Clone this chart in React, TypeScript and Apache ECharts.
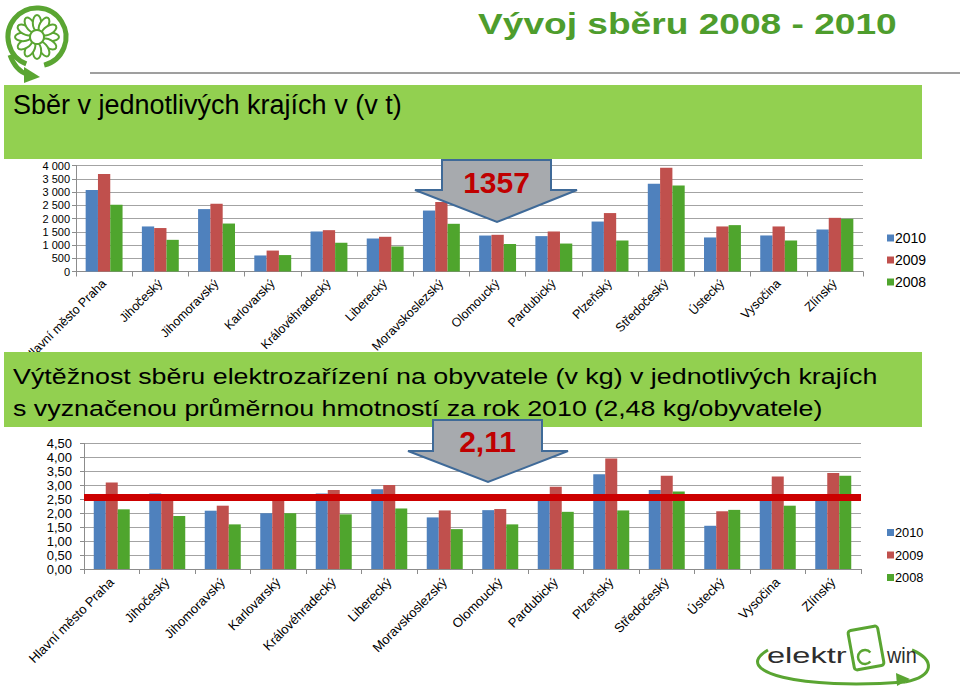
import React, { useEffect, useRef } from 'react';
import * as echarts from 'echarts';

const regions = [
  'Hlavní město Praha', 'Jihočeský', 'Jihomoravský', 'Karlovarský', 'Královéhradecký',
  'Liberecký', 'Moravskoslezský', 'Olomoucký', 'Pardubický', 'Plzeňský',
  'Středočeský', 'Ústecký', 'Vysočina', 'Zlínský',
];
const years = ['2010', '2009', '2008'];

// Sběr v tunách
const tons2010 = [3080, 1700, 2355, 605, 1510, 1245, 2300, 1357, 1335, 1885, 3310, 1285, 1360, 1585];
const tons2009 = [3675, 1640, 2555, 790, 1560, 1310, 2620, 1385, 1510, 2205, 3915, 1700, 1700, 2025];
const tons2008 = [2515, 1195, 1810, 620, 1085, 945, 1800, 1035, 1055, 1170, 3245, 1750, 1170, 1990];

// Výtěžnost kg / obyvatele
const kg2010 = [2.55, 2.71, 2.09, 2.0, 2.71, 2.86, 1.85, 2.11, 2.55, 3.4, 2.83, 1.55, 2.55, 2.55];
const kg2009 = [3.1, 2.58, 2.27, 2.58, 2.83, 3.01, 2.1, 2.15, 2.95, 3.96, 3.34, 2.07, 3.32, 3.44];
const kg2008 = [2.14, 1.9, 1.6, 2.0, 1.96, 2.17, 1.43, 1.6, 2.05, 2.1, 2.78, 2.12, 2.27, 3.34];

const avgLineValue = 2.58;
const tonAxis = { min: 0, max: 4000, interval: 500 };
const kgAxis = { min: 0, max: 4.5, interval: 0.5 };
const callout1Text = '1357';
const callout2Text = '2,11';

const titleText = 'Vývoj sběru 2008 - 2010';
const banner1Text = 'Sběr v jednotlivých krajích v (v t)';
const banner2Line1 = 'Výtěžnost sběru elektrozařízení na obyvatele (v kg) v jednotlivých krajích';
const banner2Line2 = 's vyznačenou průměrnou hmotností za rok 2010 (2,48 kg/obyvatele)';

const C_BLUE = '#4f81bd';
const C_RED = '#c0504d';
const C_GREEN = '#4fa52d';
const BANNER = '#92d050';
const LOGO_GREEN = '#5aa532';
const FONT = '"Liberation Sans", Arial, sans-serif';

function fmtTons(v: number) {
  if (v >= 1000) return `${Math.floor(v / 1000)} ${String(v % 1000).padStart(3, '0')}`;
  return String(v);
}
function fmtKg(v: number) {
  return v.toFixed(2).replace('.', ',');
}

function flowerLogo(): any[] {
  const els: any[] = [];
  const cx = 37, cy = 37;
  els.push({
    type: 'arc', z: 50,
    shape: { cx, cy, r: 29, startAngle: 1.95, endAngle: 1.95 + Math.PI * 1.8, clockwise: true },
    style: { stroke: LOGO_GREEN, lineWidth: 5, fill: 'none' },
  });
  els.push({
    type: 'bezierCurve', z: 50,
    shape: { x1: 10, y1: 55, x2: 27, y2: 74, cpx1: 14, cpy1: 66, cpx2: 20, cpy2: 72 },
    style: { stroke: LOGO_GREEN, lineWidth: 5, fill: 'none' },
  });
  els.push({
    type: 'polygon', z: 50,
    shape: { points: [[24, 67], [40, 77], [24, 83]] },
    style: { fill: LOGO_GREEN },
  });
  for (let i = 0; i < 12; i++) {
    const a = (i * Math.PI) / 6;
    els.push({
      type: 'ellipse', z: 50,
      x: cx + 14 * Math.cos(a), y: cy + 14 * Math.sin(a),
      rotation: Math.PI / 2 - a,
      shape: { cx: 0, cy: 0, rx: 4.2, ry: 8 },
      style: { fill: '#fff', stroke: LOGO_GREEN, lineWidth: 2 },
    });
  }
  els.push({
    type: 'circle', z: 51,
    shape: { cx, cy, r: 7 },
    style: { fill: '#fff', stroke: LOGO_GREEN, lineWidth: 2 },
  });
  return els;
}

function elektrowinLogo(): any[] {
  return [
    {
      type: 'bezierCurve', z: 50,
      shape: { x1: 768, y1: 650, x2: 905, y2: 682, cpx1: 730, cpy1: 672, cpx2: 800, cpy2: 690 },
      style: { stroke: LOGO_GREEN, lineWidth: 3, fill: 'none' },
    },
    {
      type: 'bezierCurve', z: 50,
      shape: { x1: 905, y1: 682, x2: 912, y2: 650, cpx1: 935, cpy1: 676, cpx2: 935, cpy2: 660 },
      style: { stroke: LOGO_GREEN, lineWidth: 3, fill: 'none' },
    },
    {
      type: 'polygon', z: 51,
      shape: { points: [[896, 673], [910, 679], [897, 686]] },
      style: { fill: LOGO_GREEN },
    },
    {
      type: 'rect', z: 51, x: 866, y: 648, rotation: 0.18,
      shape: { x: -15, y: -20, width: 30, height: 40, r: 3 },
      style: { fill: 'none', stroke: LOGO_GREEN, lineWidth: 3 },
    },
    {
      type: 'arc', z: 52,
      shape: { cx: 865, cy: 657, r: 7, startAngle: -0.7, endAngle: 0.7, clockwise: false },
      style: { stroke: LOGO_GREEN, lineWidth: 2.5, fill: 'none' },
    },
    {
      type: 'text', z: 52, x: 767, y: 655, scaleX: 1.48,
      style: { text: 'elektr', fontSize: 22, fontFamily: FONT, fill: '#2e2e2e', textAlign: 'left', textVerticalAlign: 'middle' },
    },
    {
      type: 'text', z: 52, x: 887, y: 655, scaleX: 0.9,
      style: { text: 'win', fontSize: 22, fontFamily: FONT, fill: '#2e2e2e', textAlign: 'left', textVerticalAlign: 'middle' },
    },
  ];
}

function callout(box: { l: number; r: number; t: number; b: number }, baseL: number, baseR: number, tipX: number, tipY: number, text: string, textY: number): any[] {
  return [
    {
      type: 'polygon', z: 120,
      shape: {
        points: [
          [box.l, box.t], [box.r, box.t], [box.r, box.b], [baseR, box.b],
          [tipX, tipY], [baseL, box.b], [box.l, box.b],
        ],
      },
      style: { fill: '#a7aaae', stroke: '#3f6a98', lineWidth: 2 },
    },
    {
      type: 'text', z: 121, x: (box.l + box.r) / 2, y: textY,
      style: { text, fontSize: 30, fontWeight: 'bold', fontFamily: FONT, fill: '#c00000', textAlign: 'center', textVerticalAlign: 'middle' },
    },
  ];
}

export default function App() {
  const ref = useRef<HTMLDivElement>(null);
  useEffect(() => {
    if (!ref.current) return;
    const chart = echarts.init(ref.current, undefined, { renderer: 'svg' });
    const axisGray = '#8c8c8c';
    const gridGray = '#a3a3a3';
    const mkX = (gi: number, fs: number, margin: number) => ({
      type: 'category' as const,
      gridIndex: gi,
      data: regions,
      axisLine: { lineStyle: { color: axisGray } },
      axisTick: { show: true, length: 5, lineStyle: { color: axisGray } },
      axisLabel: { rotate: 45, fontSize: fs, color: '#000', fontFamily: FONT, margin, interval: 0 },
    });
    const mkY = (gi: number, ax: any, fs: number, fmt: (v: number) => string, margin: number) => ({
      type: 'value' as const,
      gridIndex: gi,
      min: ax.min, max: ax.max, interval: ax.interval,
      axisLine: { show: true, lineStyle: { color: axisGray } },
      axisTick: { show: true, length: 4, lineStyle: { color: axisGray } },
      splitLine: { lineStyle: { color: gridGray, width: 1 } },
      axisLabel: { fontSize: fs, color: '#000', fontFamily: FONT, formatter: fmt, margin },
    });
    const bar = (name: string, data: number[], color: string, idx: number, bw: number, extra: any = {}) => ({
      type: 'bar' as const,
      name, data,
      xAxisIndex: idx, yAxisIndex: idx,
      barWidth: bw, barGap: '0%',
      itemStyle: { color },
      ...extra,
    });
    chart.setOption({
      animation: false,
      backgroundColor: '#fff',
      textStyle: { fontFamily: FONT },
      grid: [
        { left: 76, top: 165.5, width: 787, height: 106 },
        { left: 84, top: 443.5, width: 777, height: 125.5 },
      ],
      xAxis: [mkX(0, 12.5, 10), mkX(1, 13, 11)],
      yAxis: [mkY(0, tonAxis, 11, fmtTons, 6), mkY(1, kgAxis, 13, fmtKg, 12)],
      legend: [
        {
          orient: 'vertical', left: 882, top: 226, itemWidth: 7, itemHeight: 7, itemGap: 8,
          icon: 'rect', data: years, textStyle: { fontSize: 14, color: '#000', fontFamily: FONT, padding: [0, 0, 0, -4] },
        },
        {
          orient: 'vertical', left: 882, top: 521, itemWidth: 7, itemHeight: 7, itemGap: 9.5,
          icon: 'rect', data: years, textStyle: { fontSize: 12.8, color: '#000', fontFamily: FONT, padding: [0, 0, 0, -4] },
        },
      ],
      series: [
        bar(years[0], tons2010, C_BLUE, 0, 12.3),
        bar(years[1], tons2009, C_RED, 0, 12.3),
        bar(years[2], tons2008, C_GREEN, 0, 12.3),
        bar(years[0], kg2010, C_BLUE, 1, 12),
        bar(years[1], kg2009, C_RED, 1, 12),
        bar(years[2], kg2008, C_GREEN, 1, 12, {
          markLine: {
            silent: true,
            symbol: ['none', 'none'],
            label: { show: false },
            lineStyle: { color: '#cc0000', width: 7, type: 'solid' },
            data: [{ yAxis: avgLineValue }],
          },
        }),
      ],
      graphic: [
        ...flowerLogo(),
        {
          type: 'text', z: 50, x: 478, y: 24, scaleX: 1.28,
          style: { text: titleText, fontSize: 29, fontWeight: 'bold', fontFamily: FONT, fill: '#4e9d2d', textAlign: 'left', textVerticalAlign: 'middle' },
        },
        {
          type: 'line', z: 50,
          shape: { x1: 90, y1: 73, x2: 960, y2: 73 },
          style: { stroke: '#7f7f7f', lineWidth: 1.5 },
        },
        { type: 'rect', z: 100, shape: { x: 4, y: 85, width: 918, height: 74 }, style: { fill: BANNER } },
        {
          type: 'text', z: 101, x: 13, y: 105,
          style: { text: banner1Text, fontSize: 27, fontFamily: FONT, fill: '#000', textAlign: 'left', textVerticalAlign: 'middle' },
        },
        { type: 'rect', z: 100, shape: { x: 4, y: 352, width: 918, height: 75 }, style: { fill: BANNER } },
        {
          type: 'text', z: 101, x: 13, y: 376, scaleX: 1.22,
          style: { text: banner2Line1, fontSize: 22, fontFamily: FONT, fill: '#000', textAlign: 'left', textVerticalAlign: 'middle' },
        },
        {
          type: 'text', z: 101, x: 13, y: 408, scaleX: 1.22,
          style: { text: banner2Line2, fontSize: 22, fontFamily: FONT, fill: '#000', textAlign: 'left', textVerticalAlign: 'middle' },
        },
        ...callout({ l: 442, r: 551, t: 160, b: 190 }, 415, 577, 497, 222, callout1Text, 182),
        ...callout({ l: 433, r: 542, t: 420, b: 451 }, 408, 568, 488, 482, callout2Text, 441),
        ...elektrowinLogo(),
      ],
    });
    return () => chart.dispose();
  }, []);
  return <div ref={ref} style={{ position: 'absolute', left: 0, top: 0, width: 960, height: 689 }} />;
}
